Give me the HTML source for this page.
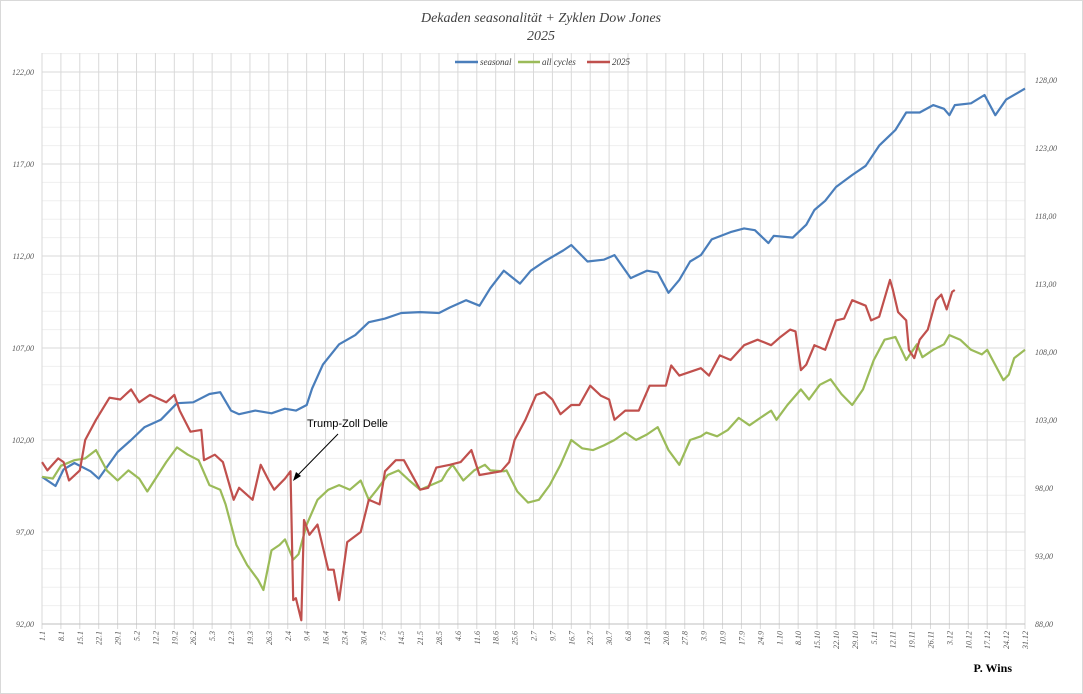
<!DOCTYPE html>
<html><head><meta charset="utf-8"><style>
body{margin:0;background:#fff}
svg{display:block}
text{font-family:"Liberation Serif",serif}
</style></head><body>
<svg id="chart" width="1083" height="694" xmlns="http://www.w3.org/2000/svg">
<rect x="0.5" y="0.5" width="1082" height="693" fill="#fff" stroke="#d9d9d9"/>
<g id="grid"></g>
<g id="series"></g>
<g id="labels"></g>
<text x="541" y="22" text-anchor="middle" font-size="14" font-style="italic" fill="#404040">Dekaden seasonalität + Zyklen Dow Jones</text>
<text x="541" y="40" text-anchor="middle" font-size="14" font-style="italic" fill="#404040">2025</text>
<g>
<g><line x1="455" y1="62" x2="478" y2="62" stroke="#4a7ebb" stroke-width="2.5"/><text x="480" y="65" font-size="9" font-style="italic" fill="#404040">seasonal</text></g>
<g><line x1="518" y1="62" x2="540" y2="62" stroke="#9bbb59" stroke-width="2.5"/><text x="542" y="65" font-size="9" font-style="italic" fill="#404040">all cycles</text></g>
<g><line x1="587" y1="62" x2="610" y2="62" stroke="#c0504d" stroke-width="2.5"/><text x="612" y="65" font-size="9" font-style="italic" fill="#404040">2025</text></g>
</g>
<g>
<text x="307" y="427" font-size="11" fill="#000" style="font-family:'Liberation Sans',sans-serif">Trump-Zoll Delle</text>
<line x1="338" y1="434" x2="295" y2="478" stroke="#000" stroke-width="1"/>
<polygon points="293,481 296,472 301,476" fill="#000"/>
</g>
<text x="1012" y="672" text-anchor="end" font-size="12" font-weight="bold" fill="#000">P. Wins</text>
</svg>
<script>
const seasonalDays=[0,5,8,12,18,21,28,33,38,44,50,56,62,66,70,73,79,85,90,94,98,100,104,110,116,121,127,133,140,147,151,157,162,166,171,177,181,186,193,196,202,208,212,218,224,228,232,236,240,244,248,255,260,264,269,271,278,283,286,290,294,300,305,310,316,320,325,330,334,336,338,344,349,353,357,364];
const seasonalVals=[100.0,99.5,100.4,100.75,100.3,99.9,101.35,102.0,102.7,103.1,104.0,104.05,104.5,104.6,103.6,103.4,103.6,103.45,103.7,103.6,103.9,104.8,106.1,107.2,107.7,108.4,108.6,108.9,108.95,108.9,109.2,109.6,109.3,110.25,111.2,110.5,111.2,111.7,112.3,112.6,111.7,111.8,112.05,110.8,111.2,111.1,110.0,110.7,111.7,112.05,112.9,113.3,113.5,113.4,112.7,113.1,113.0,113.7,114.5,115.0,115.75,116.4,116.9,118.0,118.85,119.8,119.8,120.2,120.0,119.65,120.2,120.3,120.75,119.65,120.5,121.1];
const cycleDays=[0,4,7,12,16,20,24,28,32,36,39,46,50,54,58,62,66,68,72,76,80,82,85,88,90,93,95,98,102,106,110,114,118,121,124,128,132,136,140,144,148,150,152,156,160,164,166,171,172,176,180,184,188,192,196,200,204,208,212,216,220,224,228,232,236,240,244,246,250,254,258,262,266,270,272,276,281,284,288,292,296,300,304,308,312,316,320,324,326,330,334,336,340,344,348,350,354,356,358,360,364];
const cycleVals=[100.0,99.9,100.6,100.9,101.0,101.45,100.35,99.8,100.35,99.9,99.2,100.8,101.6,101.2,100.9,99.55,99.3,98.5,96.3,95.2,94.4,93.85,96.0,96.3,96.6,95.5,95.8,97.4,98.75,99.3,99.55,99.3,99.8,98.75,99.3,100.1,100.35,99.8,99.3,99.55,99.8,100.3,100.65,99.8,100.35,100.65,100.35,100.3,100.35,99.2,98.6,98.75,99.55,100.65,102.0,101.55,101.45,101.7,102.0,102.4,102.0,102.3,102.7,101.45,100.65,102.0,102.2,102.4,102.2,102.55,103.2,102.8,103.2,103.6,103.1,103.9,104.75,104.2,105.0,105.3,104.5,103.9,104.75,106.35,107.45,107.6,106.35,107.2,106.5,106.9,107.2,107.7,107.45,106.9,106.65,106.9,105.8,105.25,105.55,106.45,106.9];
const y2025Days=[0,2,6,8,10,14,16,20,25,29,33,36,40,46,49,51,55,59,60,64,67,71,73,78,81,84,86,90,92,93,94,96,97,99,102,106,108,110,113,118,121,125,127,131,134,140,143,146,151,155,159,162,170,173,175,179,183,186,189,192,196,199,203,207,210,212,216,221,225,231,233,236,244,247,251,255,260,265,270,273,277,279,281,283,286,290,294,297,300,305,307,310,314,315,317,320,321,323,325,328,331,333,335,337,338];
const y2025Vals=[100.8,100.35,101.0,100.8,99.8,100.35,102.0,103.1,104.3,104.2,104.75,104.05,104.45,104.05,104.45,103.6,102.45,102.55,100.9,101.2,100.8,98.75,99.4,98.75,100.65,99.8,99.3,99.9,100.3,93.3,93.4,92.2,97.65,96.85,97.4,94.95,94.95,93.3,96.45,97.0,98.75,98.5,100.3,100.9,100.9,99.3,99.4,100.5,100.65,100.8,101.45,100.1,100.3,100.8,102.0,103.1,104.45,104.6,104.2,103.4,103.9,103.9,104.95,104.4,104.2,103.1,103.6,103.6,104.95,104.95,106.05,105.5,105.9,105.5,106.6,106.35,107.15,107.45,107.15,107.55,108.0,107.9,105.8,106.1,107.15,106.9,108.5,108.6,109.6,109.3,108.5,108.7,110.7,110.2,108.95,108.5,106.9,106.45,107.45,108.0,109.6,109.9,109.1,110.05,110.15];
const leftTicks=[122,117,112,107,102,97,92];
const rightTicks=[128,123,118,113,108,103,98,93,88];

const NS="http://www.w3.org/2000/svg";
const X0=42,X1=1025,YTOP=53,YBOT=624;
const xS=d=>X0+d*(X1-X0)/364;
const yS=v=>72+(122-v)*(YBOT-72)/30;
const yR=v=>624-(88-v)*(-(624-80)/40);
function mk(tag,attrs,parent){const e=document.createElementNS(NS,tag);for(const k in attrs)e.setAttribute(k,attrs[k]);parent.appendChild(e);return e;}
const grid=document.getElementById('grid'),ser=document.getElementById('series'),lab=document.getElementById('labels');
// minor horizontal
for(let v=93;v<=123;v++){if(v%5===2)continue;const y=yS(v);if(y<YTOP)continue;
 const l=mk('line',{x1:X0,x2:X1,y1:y,y2:y,stroke:'#efefef','stroke-width':1},grid);
 
 }
leftTicks.forEach(v=>{const y=yS(v);
 const l=mk('line',{x1:X0,x2:X1,y1:y,y2:y,stroke:'#d9d9d9','stroke-width':1},grid);
 
 
 const t=mk('text',{x:X0-8,y:y+3,'text-anchor':'end','font-size':8,'font-style':'italic',fill:'#595959'},lab);t.textContent=v.toFixed(2).replace('.',',');
 
 });
rightTicks.forEach(v=>{const y=yR(v);
 const t=mk('text',{x:X1+10,y:y+3,'font-size':8,'font-style':'italic',fill:'#595959'},lab);t.textContent=v.toFixed(2).replace('.',',');
 
 });
for(let d=0;d<=364;d+=7){const x=xS(d);
 const l=mk('line',{x1:x,x2:x,y1:YTOP,y2:YBOT+5,stroke:'#d9d9d9','stroke-width':1},grid);
 
 
 const dt=new Date(Date.UTC(2025,0,1+d));const s=dt.getUTCDate()+'.'+(dt.getUTCMonth()+1);
 const t=mk('text',{x:0,y:0,'text-anchor':'end','font-size':8,'font-style':'italic',fill:'#595959',transform:`translate(${x+3},${YBOT+7}) rotate(-90)`},lab);t.textContent=s;
 
 }
mk('line',{x1:X0,x2:X1,y1:YBOT,y2:YBOT,stroke:'#bfbfbf'},grid);
function line(days,vals,color,name){const pts=days.map((d,i)=>xS(d).toFixed(1)+','+yS(vals[i]).toFixed(1)).join(' ');
 const p=mk('polyline',{points:pts,fill:'none',stroke:color,'stroke-width':2.2,'stroke-linejoin':'round'},ser);
 
 }
line(seasonalDays,seasonalVals,'#4a7ebb','seasonal-line');
line(cycleDays,cycleVals,'#9bbb59','all-cycles-line');
line(y2025Days,y2025Vals,'#c0504d','line-2025');
</script>
</body></html>
